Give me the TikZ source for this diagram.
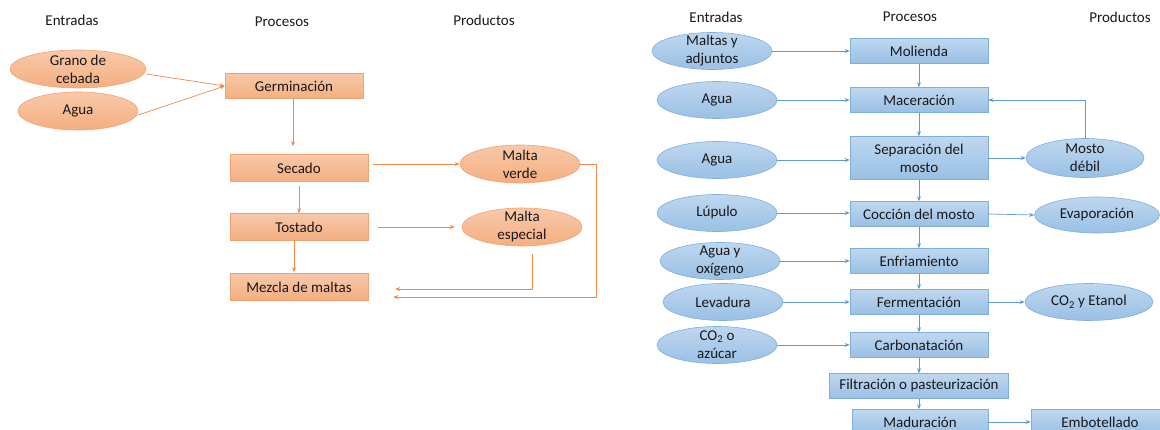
\documentclass[tikz,border=0pt]{standalone}
\usepackage{fontspec}
\setmainfont{Carlito}
\usetikzlibrary{shapes.geometric,arrows.meta}
\definecolor{otop}{HTML}{F8C9AA}
\definecolor{obot}{HTML}{F4AE80}
\definecolor{oline}{HTML}{F08A4B}
\definecolor{oedge}{HTML}{F2A26F}
\definecolor{btop}{HTML}{BFD7EF}
\definecolor{bbot}{HTML}{99C0E5}
\definecolor{bline}{HTML}{5B9BD5}
\definecolor{bedge}{HTML}{80AEDC}
\tikzset{
  every node/.style={font=\fontsize{15}{18}\selectfont, text=black!90},
  obox/.style={rectangle, draw=oedge, line width=0.6pt, top color=otop, bottom color=obot, minimum width=138pt, minimum height=25pt, inner sep=0pt, align=center},
  oell/.style={ellipse, draw=oedge, line width=0.6pt, top color=otop, bottom color=obot, minimum width=120pt, minimum height=38pt, inner sep=0pt},
  bbox/.style={rectangle, draw=bedge, line width=0.6pt, top color=btop, bottom color=bbot, minimum width=138pt, minimum height=25pt, inner sep=0pt, align=center},
  bell/.style={ellipse, draw=bedge, line width=0.6pt, top color=btop, bottom color=bbot, minimum width=120pt, minimum height=37pt, inner sep=0pt},
  etext/.style={align=center, inner sep=0pt},
  oarrow/.style={draw=oline, line width=0.7pt, -{Stealth[length=5pt,width=4pt]}},
  barrow/.style={draw=bline, line width=0.7pt, -{Stealth[length=5pt,width=4pt]}},
  hdr/.style={}
}
\begin{document}
\begin{tikzpicture}[x=1pt,y=-1pt]
\useasboundingbox (0,0) rectangle (1160,430);
\clip (0,0) rectangle (1160,430);
% ---------- left diagram ----------
\node[hdr] (h1) at (72,20) {Entradas};
\node[hdr] (h2) at (282,22) {Procesos};
\node[hdr] (h3) at (484,20) {Productos};

\node[oell, minimum width=136pt] (grano) at (78,69) {};
\node[etext] (granot) at (grano) {Grano de\\cebada};
\node[oell] (agua) at (78,111) {};
\node[etext] (aguat) at (agua) {Agua};

\node[obox] (germ) at (294,86) {Germinación};
\node[obox, minimum height=27pt] (secado) at (299,168) {Secado};
\node[obox, minimum height=27pt] (tost) at (299,227) {Tostado};
\node[obox, minimum height=27pt] (mezcla) at (299,287) {Mezcla de maltas};

\node[oell] (verde) at (520,164) {};
\node[etext] (verdet) at (verde) {Malta\\verde};
\node[oell] (esp) at (522,227) {};
\node[etext] (espt) at (esp) {Malta\\especial};

\draw[oarrow] ([yshift=-5pt]grano.east) -- (germ.west);
\draw[oarrow] ([yshift=-4pt]agua.east) -- (germ.west);
\draw[oarrow, shorten >=8pt] ([xshift=-1pt]germ.south) -- ([xshift=-1pt]germ.south |- secado.north);
\draw[oarrow, shorten <=4pt] (secado.south) -- (tost.north);
\draw[oarrow, shorten >=1pt] ([xshift=-5pt]tost.south) -- ([xshift=-5pt]mezcla.north);
\draw[oarrow] ([xshift=5pt]secado.east |- verde.west) -- (verde.west);
\draw[oarrow, shorten <=10pt, shorten >=7pt] (tost.east) -- (esp.west);
\draw[oarrow] ([xshift=10pt,yshift=-8pt]esp.south) |- ([xshift=27pt,yshift=-2pt]mezcla.east);
\draw[oarrow] (verde.east) -- ++(16,0) |- ([xshift=25pt,yshift=-10pt]mezcla.east);

% ---------- right diagram ----------
\node[hdr] (h4) at (716,17) {Entradas};
\node[hdr] (h5) at (910,17) {Procesos};
\node[hdr] (h6) at (1120,17) {Productos};

\node[bbox] (mol) at (919,51) {Molienda};
\node[bbox] (mac) at (919,100) {Maceración};
\node[bbox, minimum height=43pt] (sep) at (919,158) {Separación del\\mosto};
\node[bbox] (coc) at (919,214) {Cocción del mosto};
\node[bbox] (enf) at (919,261) {Enfriamiento};
\node[bbox] (fer) at (919,302) {Fermentación};
\node[bbox] (car) at (919,345) {Carbonatación};
\node[bbox, minimum width=179pt] (fil) at (919,386) {Filtración o pasteurización};
\node[bbox, minimum width=136pt] (mad) at (920,422) {Maduración};
\node[bbox] (emb) at (1100,422) {Embotellado};

\node[bell] (maltas) at (712,51) {};
\node[etext] (maltast) at (maltas) {Maltas y\\adjuntos};
\node[bell] (agua2) at (717,100) {};
\node[etext] (agua2t) at (agua2) {Agua};
\node[bell] (agua3) at (717,160) {};
\node[etext] (agua3t) at (agua3) {Agua};
\node[bell] (lup) at (717,213) {};
\node[etext] (lupt) at (lup) {Lúpulo};
\node[bell] (aox) at (720,261) {};
\node[etext] (aoxt) at (aox) {Agua y\\oxígeno};
\node[bell] (lev) at (723,302) {};
\node[etext] (levt) at (lev) {Levadura};
\node[bell] (coaz) at (717,345) {};
\node[etext] (coazt) at (coaz) {CO\textsubscript{2} o\\azúcar};

\node[bell, minimum width=118pt, minimum height=39pt] (mosto) at (1085,158) {};
\node[etext] (mostot) at (mosto) {Mosto\\débil};
\node[bell, minimum width=125pt, minimum height=36pt] (evap) at (1097,215) {};
\node[etext] (evapt) at (evap) {Evaporación};
\node[bell, minimum width=128pt] (coet) at (1089,302) {};
\node[etext] (coett) at (coet) {CO\textsubscript{2} y Etanol};

\draw[barrow] (maltas.east) -- (mol.west);
\draw[barrow] (agua2.east) -- (mac.west);
\draw[barrow] (agua3.east) -- (agua3.east -| sep.west);
\draw[barrow] (lup.east) -- (lup.east -| coc.west);
\draw[barrow] (aox.east) -- (enf.west);
\draw[barrow] (lev.east) -- (fer.west);
\draw[barrow] (coaz.east) -- (car.west);

\draw[barrow] (mol.south) -- (mac.north);
\draw[barrow] (mac.south) -- (sep.north);
\draw[barrow] (sep.south) -- (coc.north);
\draw[barrow] (coc.south) -- (enf.north);
\draw[barrow] (enf.south) -- (fer.north);
\draw[barrow] (fer.south) -- (car.north);
\draw[barrow] (car.south) -- (fil.north);
\draw[barrow] (fil.south) -- (fil.south |- mad.north);

\draw[barrow] (sep.east) -- (mosto.west);
\draw[barrow] (mosto.north) |- (mac.east);
\draw[barrow] (coc.east) -- (evap.west);
\draw[barrow] (fer.east) -- (coet.west);
\draw[barrow] (mad.east) -- (emb.west);
\end{tikzpicture}
\end{document}
